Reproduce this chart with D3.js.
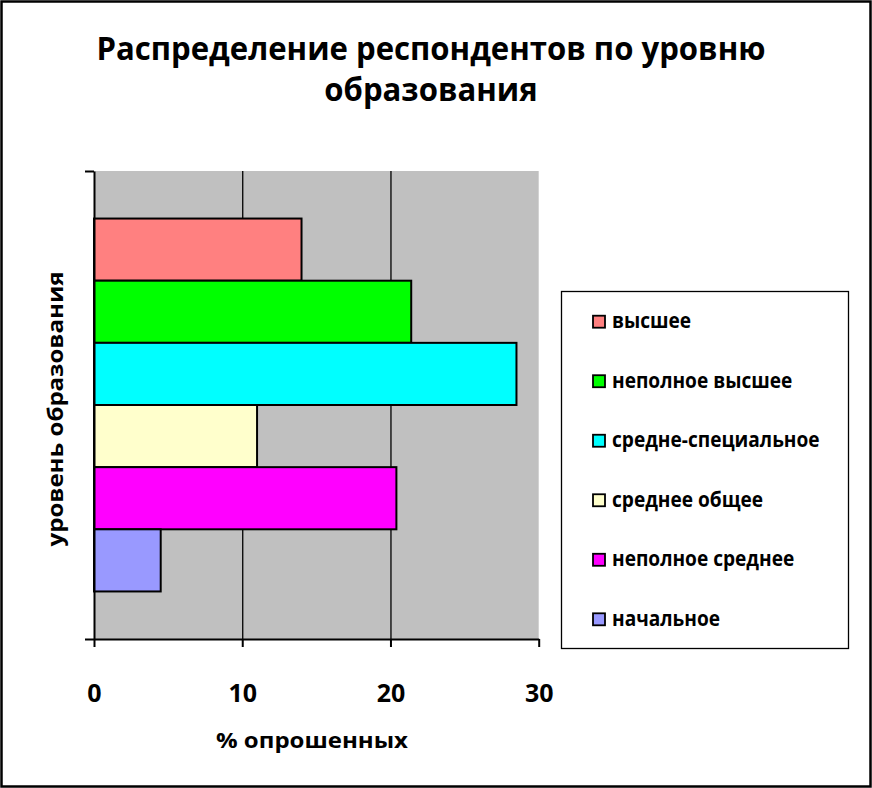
<!DOCTYPE html>
<html>
<head>
<meta charset="utf-8">
<script src="https://cdn.jsdelivr.net/npm/d3@7"></script>
<style>
  html, body { margin: 0; padding: 0; background: #fff; }
  svg { display: block; }
  text { font-family: "Open Sans", "DejaVu Sans", sans-serif; font-weight: bold; fill: #000; }
</style>
</head>
<body>
<svg id="chart" width="872" height="788"></svg>
<script>
// Education levels (top to bottom) and share of respondents, %
const categories = ["высшее", "неполное высшее", "средне-специальное", "среднее общее", "неполное среднее", "начальное"];
const values = [14, 21.4, 28.5, 11, 20.4, 4.5];
const colors = ["#FF8080", "#00FF00", "#00FFFF", "#FFFFCC", "#FF00FF", "#9999FF"];
const xTicks = [0, 10, 20, 30];
const titleLines = ["Распределение респондентов по уровню", "образования"];
const xTitle = "% опрошенных";
const yTitle = "уровень образования";

const svg = d3.select("#chart");
const W = 872, H = 788;
const plot = { left: 94, right: 538.7, top: 171, bottom: 639 };

// outer frame
svg.append("rect").attr("x", 1.5).attr("y", 1.5).attr("width", W - 3).attr("height", H - 3)
  .attr("fill", "#fff").attr("stroke", "#000").attr("stroke-width", 2.5);

// squeeze a text element horizontally to a target width
function fitWidth(sel, target) {
  sel.attr("textLength", target).attr("lengthAdjust", "spacingAndGlyphs");
}

// title
const title = svg.append("g");
const t1 = title.append("text").attr("x", 431).attr("y", 60).attr("text-anchor", "middle")
  .attr("font-size", 33).text(titleLines[0]);
const t2 = title.append("text").attr("x", 431).attr("y", 101).attr("text-anchor", "middle")
  .attr("font-size", 33).text(titleLines[1]);
const k1 = 669 / t1.node().getComputedTextLength();
fitWidth(t1, 669);
fitWidth(t2, t2.node().getComputedTextLength() * k1);

// scales
const x = d3.scaleLinear().domain([0, 30]).range([plot.left, plot.right]);
const y = d3.scaleBand().domain(categories).range([plot.top, plot.bottom])
  .paddingInner(0).paddingOuter(0.765);

// plot background
svg.append("rect").attr("x", plot.left).attr("y", plot.top)
  .attr("width", plot.right - plot.left).attr("height", plot.bottom - plot.top)
  .attr("fill", "#C0C0C0");

// vertical gridlines
svg.append("g").attr("transform", `translate(0,${plot.bottom})`)
  .call(d3.axisBottom(x).tickValues([10, 20]).tickSize(-(plot.bottom - plot.top)).tickFormat(""))
  .call(g => g.select(".domain").remove())
  .call(g => g.selectAll("line").attr("stroke", "#000").attr("stroke-width", 1.3));

// bars
svg.append("g").selectAll("rect").data(categories).join("rect")
  .attr("x", x(0))
  .attr("y", d => y(d))
  .attr("width", (d, i) => x(values[i]) - x(0))
  .attr("height", y.bandwidth())
  .attr("fill", (d, i) => colors[i])
  .attr("stroke", "#000").attr("stroke-width", 2);

// x axis
const xAxis = svg.append("g").attr("transform", `translate(0,${plot.bottom})`)
  .call(d3.axisBottom(x).tickValues(xTicks).tickSize(8).tickPadding(37).tickSizeOuter(0));
xAxis.select(".domain").attr("stroke", "#000").attr("stroke-width", 2);
xAxis.selectAll(".tick line").attr("stroke", "#000").attr("stroke-width", 2);
xAxis.selectAll(".tick text").attr("font-size", 25).attr("font-family", null).attr("font-weight", null);

// y axis: only end ticks
const yLin = d3.scaleLinear().domain([0, 1]).range([plot.bottom, plot.top]);
const yAxis = svg.append("g").attr("transform", `translate(${plot.left},0)`)
  .call(d3.axisLeft(yLin).tickValues([0, 1]).tickSize(9).tickFormat("").tickSizeOuter(0));
yAxis.select(".domain").attr("stroke", "#000").attr("stroke-width", 2);
yAxis.selectAll(".tick line").attr("stroke", "#000").attr("stroke-width", 2);

// axis titles
const xt = svg.append("text").attr("x", 312).attr("y", 748).attr("text-anchor", "middle")
  .attr("font-size", 21).text(xTitle);
fitWidth(xt, 192);
const yt = svg.append("text").attr("transform", "translate(63,409) rotate(-90)")
  .attr("text-anchor", "middle").attr("font-size", 22).text(yTitle);
fitWidth(yt, 275);

// legend
svg.append("rect").attr("x", 561.5).attr("y", 291.5).attr("width", 287).attr("height", 357)
  .attr("fill", "#fff").attr("stroke", "#000").attr("stroke-width", 1.3);
const legendY = d3.scalePoint().domain(categories).range([321.7, 619.3]);
const items = svg.append("g").selectAll("g").data(categories).join("g")
  .attr("transform", d => `translate(0,${legendY(d)})`);
items.append("rect").attr("x", 593).attr("y", -6).attr("width", 12).attr("height", 12)
  .attr("fill", (d, i) => colors[i]).attr("stroke", "#000").attr("stroke-width", 1.8);
const labels = items.append("text").attr("x", 612).attr("y", 6.5).attr("font-size", 21).text(d => d);
const widest = d3.max(labels.nodes(), n => n.getComputedTextLength());
const kl = 207.6 / widest;
labels.each(function () { fitWidth(d3.select(this), this.getComputedTextLength() * kl); });
</script>
</body>
</html>
